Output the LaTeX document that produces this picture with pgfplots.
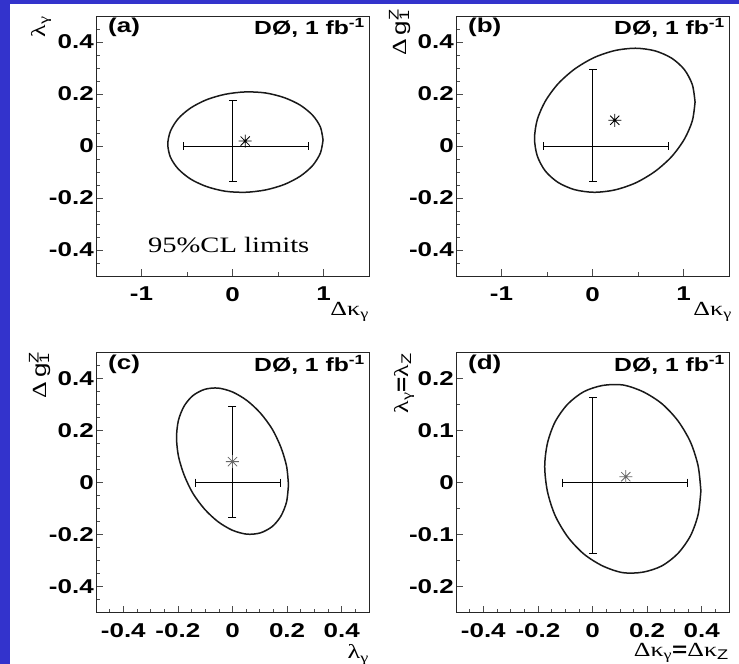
\documentclass[border=0pt]{standalone}
\usepackage{fontspec}
\setmainfont[FakeStretch=1.3]{Liberation Serif}
\newfontfamily\hv[FakeStretch=1.3]{Liberation Sans}
\newfontface\hvb[FakeStretch=1.3]{Liberation Sans Bold}
\usepackage{pgfplots}
\pgfplotsset{compat=1.18}
\definecolor{slideblue}{RGB}{51,51,204}

% eight-armed asterisk for the best-fit point
\pgfdeclareplotmark{star8}{%
  \pgfpathmoveto{\pgfqpoint{-\pgfplotmarksize}{0pt}}%
  \pgfpathlineto{\pgfqpoint{\pgfplotmarksize}{0pt}}%
  \pgfpathmoveto{\pgfqpoint{0pt}{-\pgfplotmarksize}}%
  \pgfpathlineto{\pgfqpoint{0pt}{\pgfplotmarksize}}%
  \pgfpathmoveto{\pgfqpoint{-.7071\pgfplotmarksize}{-.7071\pgfplotmarksize}}%
  \pgfpathlineto{\pgfqpoint{.7071\pgfplotmarksize}{.7071\pgfplotmarksize}}%
  \pgfpathmoveto{\pgfqpoint{-.7071\pgfplotmarksize}{.7071\pgfplotmarksize}}%
  \pgfpathlineto{\pgfqpoint{.7071\pgfplotmarksize}{-.7071\pgfplotmarksize}}%
  \pgfusepathqstroke}

\newcommand\tickfont{\hvb\fontsize{20bp}{22bp}\selectfont}
\newcommand\tagfont{\hvb\fontsize{20bp}{22bp}\selectfont}
\newcommand\dzfont{\hvb\fontsize{19bp}{21bp}\selectfont}
\newcommand\labfont{\fontsize{20bp}{22bp}\selectfont}
\newcommand\gone{{\hv g}\rlap{\textsuperscript{\hv Z}}\textsubscript{\hv 1}}
\newcommand\dzero{D\O, 1 fb\textsuperscript{-1}}

\pgfplotsset{
  panel/.style={
    scale only axis, width=273bp, height=260bp, anchor=north west,
    tick pos=left, tick align=inside,
    major tick length=7bp, minor tick length=4bp,
    every tick/.append style={black!70, line width=0.6bp},
    axis line style={black!85, line width=0.8bp},
    tick label style={font=\tickfont, inner sep=0pt},
    xticklabel style={anchor=north, yshift=-11bp},
    yticklabel style={anchor=east, xshift=-2bp},
    /pgf/number format/assume math mode=true,
    /pgf/number format/fixed,
    /pgf/number format/precision=2,
  },
  ell/.style={black!90, line width=1.5bp, smooth, no marks},
  hbar/.style={black, line width=0.8bp, mark=|, mark size=4bp},
  vbar/.style={black, line width=0.8bp, mark=-, mark size=4bp},
  best/.style={only marks, mark=star8, mark size=6.5bp, line width=0.8bp},
}

\begin{document}
\begin{tikzpicture}
\fill[slideblue] (0,0) rectangle (739bp,-664bp);
\fill[white] (10bp,-4bp) rectangle (739bp,-664bp);

% (a) lambda_gamma vs Delta kappa_gamma
\begin{axis}[panel, name=pa, at={(96bp,-16bp)},
  xmin=-1.5, xmax=1.5, ymin=-0.5, ymax=0.5,
  xtick={-1,0,1}, minor xtick={-1.5,-0.5,0.5,1.5},
  ytick={-0.4,-0.2,0,0.2,0.4},
  minor ytick={-0.45,-0.35,-0.3,-0.25,-0.15,-0.1,-0.05,0.05,0.1,0.15,0.25,0.3,0.35,0.45}]
\addplot[ell] coordinates {(0.995,0.023) (0.966,0.073) (0.881,0.118) (0.745,0.157)
  (0.569,0.186) (0.363,0.204) (0.142,0.208) (-0.079,0.199) (-0.285,0.178)
  (-0.461,0.146) (-0.597,0.105) (-0.682,0.057) (-0.711,0.007) (-0.682,-0.043)
  (-0.597,-0.088) (-0.461,-0.127) (-0.285,-0.156) (-0.079,-0.174) (0.142,-0.178)
  (0.363,-0.169) (0.569,-0.148) (0.745,-0.116) (0.881,-0.075) (0.966,-0.027)
  (0.995,0.023)};
\addplot[hbar] coordinates {(-0.535,0) (0.83,0)};
\addplot[vbar] coordinates {(0,-0.137) (0,0.175)};
\addplot[best] coordinates {(0.14,0.019)};
\node[anchor=north west, inner sep=0pt, font=\tagfont] at (rel axis cs:0,1) [xshift=12bp, yshift=-2bp] {(a)};
\node[anchor=north east, inner sep=0pt, font=\dzfont] at (rel axis cs:1,1) [xshift=-4bp, yshift=-2bp] {\dzero};
\node[anchor=base west, inner sep=0pt, font=\fontsize{22bp}{24bp}\selectfont] at (axis cs:-0.93,-0.41) {95\%CL limits};
\end{axis}
\node[anchor=north east, inner sep=0pt, font=\labfont] at ([yshift=-26bp]pa.south east) {Δκ\textsubscript{γ}};
\node[rotate=90, anchor=base east, inner sep=0pt, font=\labfont] at ([xshift=-51bp]pa.north west) {λ\textsubscript{γ}};

% (b) Delta g1Z vs Delta kappa_gamma
\begin{axis}[panel, name=pb, at={(456bp,-16bp)},
  xmin=-1.5, xmax=1.5, ymin=-0.5, ymax=0.5,
  xtick={-1,0,1}, minor xtick={-1.5,-0.5,0.5,1.5},
  ytick={-0.4,-0.2,0,0.2,0.4},
  minor ytick={-0.45,-0.35,-0.3,-0.25,-0.15,-0.1,-0.05,0.05,0.1,0.15,0.25,0.3,0.35,0.45}]
\addplot[ell] coordinates {(1.127,0.169) (1.097,0.236) (1.009,0.294) (0.869,0.338)
  (0.686,0.366) (0.473,0.376) (0.245,0.367) (0.017,0.340) (-0.196,0.296)
  (-0.379,0.239) (-0.519,0.172) (-0.607,0.101) (-0.637,0.029) (-0.607,-0.038)
  (-0.519,-0.096) (-0.379,-0.140) (-0.196,-0.168) (0.017,-0.178) (0.245,-0.169)
  (0.473,-0.142) (0.686,-0.098) (0.869,-0.041) (1.009,0.026) (1.097,0.097)
  (1.127,0.169)};
\addplot[hbar] coordinates {(-0.535,0) (0.83,0)};
\addplot[vbar] coordinates {(0,-0.136) (0,0.294)};
\addplot[best] coordinates {(0.245,0.099)};
\node[anchor=north west, inner sep=0pt, font=\tagfont] at (rel axis cs:0,1) [xshift=12bp, yshift=-2bp] {(b)};
\node[anchor=north east, inner sep=0pt, font=\dzfont] at (rel axis cs:1,1) [xshift=-4bp, yshift=-2bp] {\dzero};
\end{axis}
\node[anchor=north east, inner sep=0pt, font=\labfont] at ([xshift=3bp, yshift=-26bp]pb.south east) {Δκ\textsubscript{γ}};
\node[rotate=90, anchor=base east, inner sep=0pt, font=\labfont] at ([xshift=-50bp, yshift=6bp]pb.north west) {Δ\,\gone};

% (c) Delta g1Z vs lambda_gamma
\begin{axis}[panel, name=pc, at={(96bp,-352.7bp)},
  xmin=-0.5, xmax=0.5, ymin=-0.5, ymax=0.5,
  xtick={-0.4,-0.2,0,0.2,0.4},
  minor xtick={-0.45,-0.35,-0.3,-0.25,-0.15,-0.1,-0.05,0.05,0.1,0.15,0.25,0.3,0.35,0.45},
  ytick={-0.4,-0.2,0,0.2,0.4},
  minor ytick={-0.45,-0.35,-0.3,-0.25,-0.15,-0.1,-0.05,0.05,0.1,0.15,0.25,0.3,0.35,0.45}]
\addplot[ell] coordinates {(0.205,-0.008) (0.198,0.064) (0.177,0.137) (0.145,0.207)
  (0.102,0.268) (0.053,0.316) (0.000,0.349) (-0.053,0.364) (-0.102,0.359)
  (-0.145,0.335) (-0.177,0.295) (-0.198,0.240) (-0.205,0.174) (-0.198,0.102)
  (-0.177,0.029) (-0.145,-0.041) (-0.102,-0.102) (-0.053,-0.150) (0.000,-0.183)
  (0.053,-0.198) (0.102,-0.193) (0.145,-0.169) (0.177,-0.129) (0.198,-0.074)
  (0.205,-0.008)};
\addplot[hbar] coordinates {(-0.137,0) (0.175,0)};
\addplot[vbar] coordinates {(0,-0.133) (0,0.293)};
\addplot[best, black!60] coordinates {(0,0.081)};
\node[anchor=north west, inner sep=0pt, font=\tagfont] at (rel axis cs:0,1) [xshift=12bp, yshift=-2bp] {(c)};
\node[anchor=north east, inner sep=0pt, font=\dzfont] at (rel axis cs:1,1) [xshift=-4bp, yshift=-2bp] {\dzero};
\end{axis}
\node[anchor=north east, inner sep=0pt, font=\labfont] at ([yshift=-32bp]pc.south east) {λ\textsubscript{γ}};
\node[rotate=90, anchor=base east, inner sep=0pt, font=\labfont] at ([xshift=-50bp]pc.north west) {Δ\,\gone};

% (d) lambda_gamma = lambda_Z vs Delta kappa_gamma = Delta kappa_Z
\begin{axis}[panel, name=pd, at={(456bp,-352.7bp)},
  xmin=-0.5, xmax=0.5, ymin=-0.25, ymax=0.25,
  xtick={-0.4,-0.2,0,0.2,0.4},
  minor xtick={-0.45,-0.35,-0.3,-0.25,-0.15,-0.1,-0.05,0.05,0.1,0.15,0.25,0.3,0.35,0.45},
  ytick={-0.2,-0.1,0,0.1,0.2},
  minor ytick={-0.15,-0.05,0.05,0.15}]
\addplot[ell] coordinates {(0.397,-0.016) (0.387,0.032) (0.359,0.078) (0.313,0.119)
  (0.254,0.152) (0.185,0.175) (0.111,0.188) (0.037,0.187) (-0.032,0.175)
  (-0.091,0.151) (-0.137,0.117) (-0.165,0.076) (-0.175,0.031) (-0.165,-0.017)
  (-0.137,-0.063) (-0.091,-0.104) (-0.032,-0.137) (0.037,-0.160) (0.111,-0.173)
  (0.185,-0.172) (0.254,-0.160) (0.313,-0.136) (0.359,-0.102) (0.387,-0.061)
  (0.397,-0.016)};
\addplot[hbar] coordinates {(-0.110,0) (0.348,0)};
\addplot[vbar] coordinates {(0,-0.136) (0,0.164)};
\addplot[best, black!60] coordinates {(0.122,0.0116)};
\node[anchor=north west, inner sep=0pt, font=\tagfont] at (rel axis cs:0,1) [xshift=12bp, yshift=-2bp] {(d)};
\node[anchor=north east, inner sep=0pt, font=\dzfont] at (rel axis cs:1,1) [xshift=-4bp, yshift=-2bp] {\dzero};
\end{axis}
\node[anchor=north east, inner sep=0pt, font=\labfont] at ([yshift=-30bp]pd.south east) {Δκ\textsubscript{γ}{\hvb =}Δκ\textsubscript{\hv Z}};
\node[rotate=90, anchor=base east, inner sep=0pt, font=\labfont] at ([xshift=-48bp]pd.north west) {λ\textsubscript{γ}{\hvb =}λ\textsubscript{\hv Z}};

\pgfresetboundingbox
\useasboundingbox (0,0) rectangle (739bp,-664bp);
\end{tikzpicture}
\end{document}
